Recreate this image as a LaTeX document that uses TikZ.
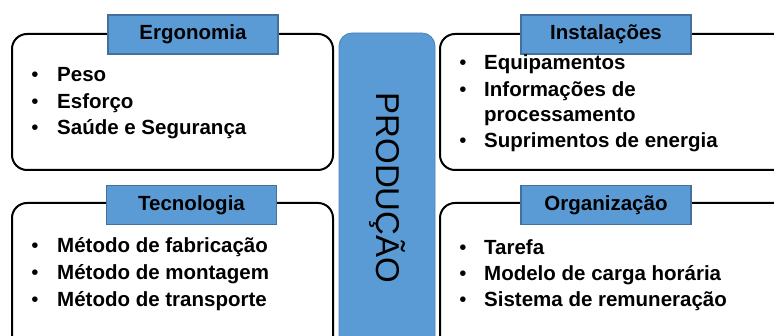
\documentclass[tikz,border=0pt]{standalone}
\usepackage{fontspec}
\setmainfont{Liberation Sans}
\definecolor{boxblue}{RGB}{91,155,213}
\definecolor{edgeblue}{RGB}{65,113,156}
\begin{document}
\begin{tikzpicture}[x=1pt,y=1pt,
  panel/.style={draw=black, line width=2pt, rounded corners=15pt, fill=white},
  titlebox/.style={draw=edgeblue, line width=1.6pt, fill=boxblue, minimum width=170pt,
    minimum height=39pt, inner sep=0pt, font=\fontsize{20.5}{24}\selectfont\bfseries},
  core/.style={draw=boxblue!85!black, line width=0.8pt, fill=boxblue, rounded corners=13pt},
  item/.style={anchor=base west, inner sep=0pt, font=\fontsize{20.5}{24}\selectfont\bfseries},
  dot/.style={anchor=base, inner sep=0pt, font=\fontsize{20.5}{24}\selectfont}]
\useasboundingbox (0,0) rectangle (774,336);
\clip (0,0) rectangle (774,336);

% central column
\draw[core] (339,-20) rectangle (435,303);
\node[rotate=-90, font=\fontsize{33}{36}\selectfont] (prod) at (387,148) {PRODUÇÃO};

% four panels
\draw[panel] (12,302) rectangle (333,166);
\draw[panel] (440,302) rectangle (795,166);
\draw[panel] (12,133) rectangle (333,-20);
\draw[panel] (440,133) rectangle (795,-20);

% panel titles
\node[titlebox] (ergo) at (193,301.5) {Ergonomia};
\node[titlebox] (inst) at (606,301.5) {Instalações};
\node[titlebox] (tec) at (191.5,131) {Tecnologia};
\node[titlebox] (org) at (606,131) {Organização};

% Ergonomia
\foreach \y/\t [count=\i] in {254/Peso, 227/Esforço, 201/Saúde e Segurança}{
  \node[dot] (ergob\i) at (35,\y) {•};
  \node[item] (ergot\i) at (57,\y) {\t};
}
% Instalações
\foreach \y/\t [count=\i] in {266/Equipamentos, 239/Informações de, 188/Suprimentos de energia}{
  \node[dot] (instb\i) at (463,\y) {•};
  \node[item] (instt\i) at (484,\y) {\t};
}
\node[item] (instt4) at (484,214) {processamento};
% Tecnologia
\foreach \y/\t [count=\i] in {83/Método de fabricação, 56/Método de montagem, 29/Método de transporte}{
  \node[dot] (tecb\i) at (35,\y) {•};
  \node[item] (tect\i) at (57,\y) {\t};
}
% Organização
\foreach \y/\t [count=\i] in {81/Tarefa, 55/Modelo de carga horária, 29/Sistema de remuneração}{
  \node[dot] (orgb\i) at (463,\y) {•};
  \node[item] (orgt\i) at (484,\y) {\t};
}
\end{tikzpicture}
\end{document}
